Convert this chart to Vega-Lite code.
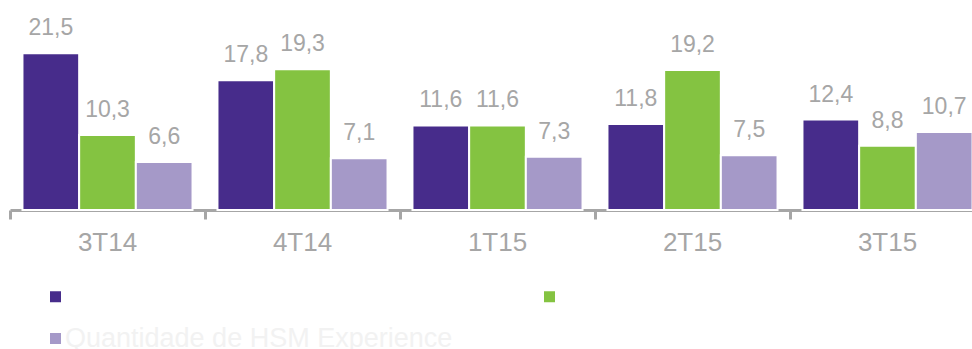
{
  "$schema": "https://vega.github.io/schema/vega-lite/v6.json",
  "width": 962,
  "height": 210,
  "autosize": {"type": "none"},
  "padding": {"left": 10, "top": 0, "right": 0, "bottom": 139},
  "background": "white",
  "config": {
    "font": "Liberation Sans",
    "view": {"stroke": null},
    "locale": {"number": {"decimal": ",", "thousands": ".", "grouping": [3], "currency": ["R$", ""]}}
  },
  "data": {
    "values": [
      {"periodo": "3T14", "serie": "Série 1", "valor": 21.5},
      {"periodo": "3T14", "serie": "Série 2", "valor": 10.3},
      {"periodo": "3T14", "serie": "Quantidade de HSM Experience", "valor": 6.6},
      {"periodo": "4T14", "serie": "Série 1", "valor": 17.8},
      {"periodo": "4T14", "serie": "Série 2", "valor": 19.3},
      {"periodo": "4T14", "serie": "Quantidade de HSM Experience", "valor": 7.1},
      {"periodo": "1T15", "serie": "Série 1", "valor": 11.6},
      {"periodo": "1T15", "serie": "Série 2", "valor": 11.6},
      {"periodo": "1T15", "serie": "Quantidade de HSM Experience", "valor": 7.3},
      {"periodo": "2T15", "serie": "Série 1", "valor": 11.8},
      {"periodo": "2T15", "serie": "Série 2", "valor": 19.2},
      {"periodo": "2T15", "serie": "Quantidade de HSM Experience", "valor": 7.5},
      {"periodo": "3T15", "serie": "Série 1", "valor": 12.4},
      {"periodo": "3T15", "serie": "Série 2", "valor": 8.8},
      {"periodo": "3T15", "serie": "Quantidade de HSM Experience", "valor": 10.7}
    ]
  },
  "encoding": {
    "x": {
      "field": "periodo",
      "type": "nominal",
      "sort": ["3T14", "4T14", "1T15", "2T15", "3T15"],
      "scale": {"range": [0, 975], "paddingInner": 0, "paddingOuter": 0},
      "axis": {
        "title": null,
        "bandPosition": 0,
        "labelAngle": 0,
        "labelFontSize": 26,
        "labelColor": "#a6a6a6",
        "labelPadding": 10,
        "domainColor": "#a6a6a6",
        "domainWidth": 3,
        "tickColor": "#a6a6a6",
        "tickWidth": 3,
        "tickSize": 9
      }
    },
    "xOffset": {
      "field": "serie",
      "type": "nominal",
      "sort": ["Série 1", "Série 2", "Quantidade de HSM Experience"],
      "scale": {"paddingInner": 0, "paddingOuter": 0.22}
    },
    "y": {
      "field": "valor",
      "type": "quantitative",
      "scale": {"domain": [0, 28.8], "nice": false},
      "axis": null
    }
  },
  "layer": [
    {
      "mark": {"type": "bar", "stroke": "white", "strokeWidth": 2},
      "encoding": {
        "color": {
          "field": "serie",
          "type": "nominal",
          "sort": ["Série 1", "Série 2", "Quantidade de HSM Experience"],
          "scale": {
            "domain": ["Série 1", "Série 2", "Quantidade de HSM Experience"],
            "range": ["#472c8b", "#84c341", "#a599c8"]
          },
          "legend": {
            "title": null,
            "orient": "none",
            "legendX": 32,
            "legendY": 283,
            "direction": "horizontal",
            "columns": 2,
            "columnPadding": 83,
            "rowPadding": 14,
            "padding": 0,
            "symbolType": "square",
            "symbolSize": 121,
            "symbolStrokeWidth": 0,
            "labelFontSize": 27,
            "labelColor": "#f2f2f2",
            "labelOffset": -4,
            "labelLimit": 600,
            "labelExpr": "datum.label == 'Quantidade de HSM Experience' ? datum.label : ''"
          }
        }
      }
    },
    {
      "mark": {"type": "text", "baseline": "alphabetic", "dy": -18, "fontSize": 23, "color": "#a6a6a6"},
      "encoding": {
        "text": {"field": "valor", "type": "quantitative", "format": ".1f"}
      }
    }
  ]
}
